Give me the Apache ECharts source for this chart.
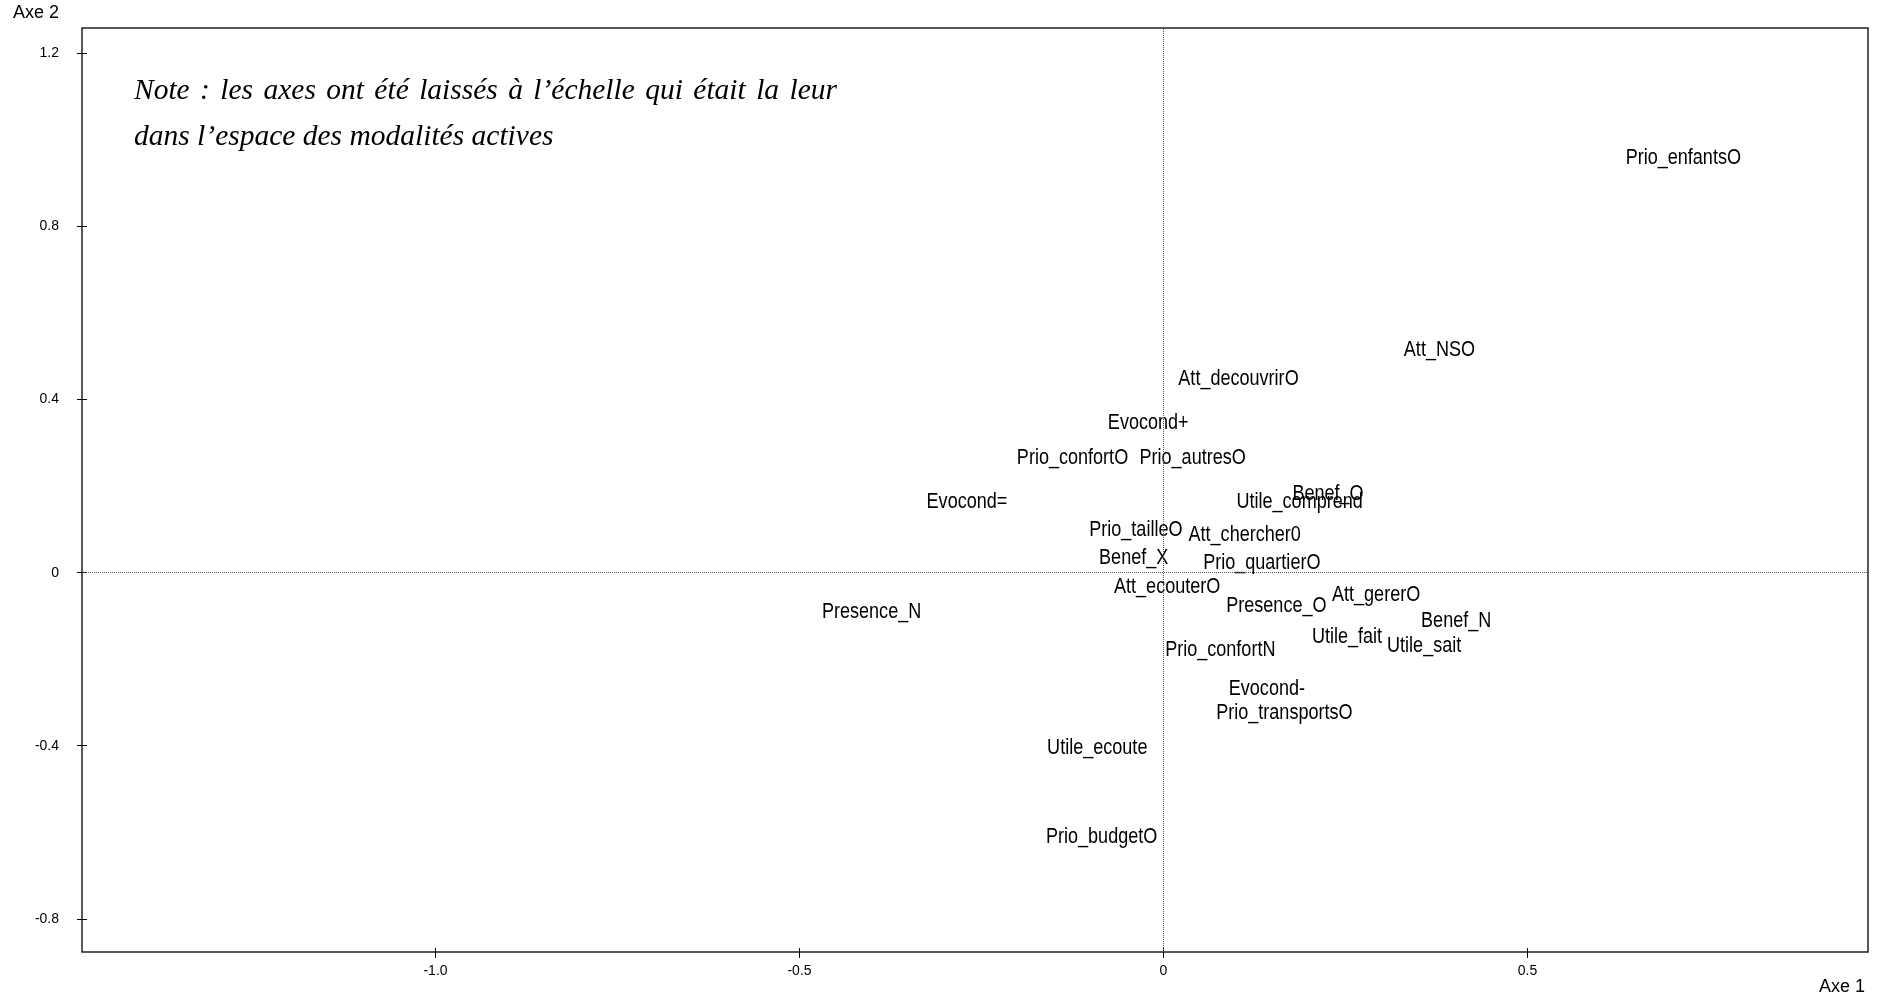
<!DOCTYPE html>
<html><head><meta charset="utf-8">
<script src="https://cdn.jsdelivr.net/npm/echarts@6/dist/echarts.min.js"></script>
<style>html,body{margin:0;padding:0;background:#fff}#c{width:1883px;height:1000px}</style>
</head><body><div id="c"></div>
<script>
// Modalités and their coordinates (Axe 1, Axe 2)
const modalites = ['Prio_enfantsO','Att_NSO','Att_decouvrirO','Evocond+','Prio_confortO','Prio_autresO','Evocond=','Benef_O','Utile_comprend','Prio_tailleO','Att_chercher0','Benef_X','Prio_quartierO','Att_ecouterO','Presence_O','Att_gererO','Presence_N','Benef_N','Utile_fait','Utile_sait','Prio_confortN','Evocond-','Prio_transportsO','Utile_ecoute','Prio_budgetO'];
const axe1 = [0.714,0.379,0.103,-0.021,-0.125,0.040,-0.270,0.226,0.187,-0.038,0.1115,-0.041,0.135,0.005,0.155,0.292,-0.401,0.402,0.252,0.358,0.078,0.142,0.166,-0.091,-0.085];
const axe2 = [0.964,0.519,0.453,0.350,0.269,0.269,0.169,0.186,0.169,0.103,0.092,0.039,0.028,-0.028,-0.072,-0.047,-0.086,-0.106,-0.144,-0.164,-0.175,-0.264,-0.319,-0.400,-0.606];
const xTicks = [-1.0,-0.5,0,0.5];
const xTickLabels = ['-1.0','-0.5','0','0.5'];
const yTicks = [-0.8,-0.4,0,0.4,0.8,1.2];
const yTickLabels = ['-0.8','-0.4','0','0.4','0.8','1.2'];
const noteLine1 = 'Note : les axes ont été laissés à l’échelle qui était la leur';
const noteLine2 = 'dans l’espace des modalités actives';

const X_MIN = -1.4856, X_MAX = 0.9677, Y_MIN = -0.8768, Y_MAX = 1.259;
const labFont = '22px "Liberation Sans", Arial, sans-serif';
const axFont = '"Liberation Sans", Arial, sans-serif';

function lab(ticks, names){ return v => { const i = ticks.findIndex(t => Math.abs(t - v) < 1e-9); return i >= 0 ? names[i] : ''; }; }

const data = modalites.map((m, i) => [axe1[i], axe2[i], i]);

// justified note, line 1
const noteFont = 'italic 29.5px "Liberation Serif", "Times New Roman", serif';
const ctx = document.createElement('canvas').getContext('2d');
ctx.font = noteFont;
const words = noteLine1.split(' ');
const nl = 134, nr = 837;
const widths = words.map(w => ctx.measureText(w).width);
const tot = widths.reduce((a, b) => a + b, 0);
const gap = (nr - nl - tot) / (words.length - 1);
const graphics = [];
let cx = nl;
words.forEach((w, i) => {
  graphics.push({ type: 'text', x: cx, y: 91, style: { text: w, font: noteFont, fill: '#000', textAlign: 'left', textVerticalAlign: 'middle' } });
  cx += widths[i] + gap;
});
graphics.push({ type: 'text', x: nl, y: 137, style: { text: noteLine2, font: noteFont, fill: '#000', textAlign: 'left', textVerticalAlign: 'middle' } });
graphics.push({ type: 'text', x: 13, y: 13, style: { text: 'Axe 2', font: '18px ' + axFont, fill: '#000', textAlign: 'left', textVerticalAlign: 'middle' } });
graphics.push({ type: 'text', x: 1865, y: 987, style: { text: 'Axe 1', font: '18px ' + axFont, fill: '#000', textAlign: 'right', textVerticalAlign: 'middle' } });

const chart = echarts.init(document.getElementById('c'), null, { renderer: 'canvas' });
const tickStyle = { color: '#000', width: 1 };
const noLine = { show: false, onZero: false };
chart.setOption({
  animation: false,
  backgroundColor: '#fff',
  grid: { left: 82, right: 15, top: 28, bottom: 48, show: true, borderColor: '#222', borderWidth: 1.5, backgroundColor: 'transparent' },
  xAxis: [
    { type: 'value', min: X_MIN, max: X_MAX, axisLine: noLine, splitLine: { show: false },
      axisTick: { show: true, customValues: xTicks, length: 6, lineStyle: tickStyle },
      axisLabel: { customValues: xTicks, formatter: lab(xTicks, xTickLabels), margin: 12, fontSize: 14, fontFamily: axFont, color: '#000' } },
    { type: 'value', min: X_MIN, max: X_MAX, position: 'bottom', axisLine: noLine, splitLine: { show: false },
      axisTick: { show: true, inside: true, customValues: xTicks, length: 4, lineStyle: tickStyle }, axisLabel: { show: false } }
  ],
  yAxis: [
    { type: 'value', min: Y_MIN, max: Y_MAX, axisLine: noLine, splitLine: { show: false },
      axisTick: { show: true, customValues: yTicks, length: 5, lineStyle: tickStyle },
      axisLabel: { customValues: yTicks, formatter: lab(yTicks, yTickLabels), margin: 23, fontSize: 14, fontFamily: axFont, color: '#000' } },
    { type: 'value', min: Y_MIN, max: Y_MAX, position: 'left', axisLine: noLine, splitLine: { show: false },
      axisTick: { show: true, inside: true, customValues: yTicks, length: 5, lineStyle: tickStyle }, axisLabel: { show: false } }
  ],
  graphic: graphics,
  series: [{
    type: 'custom', xAxisIndex: 0, yAxisIndex: 0, data: data, silent: true,
    renderItem: (params, api) => {
      const p = api.coord([api.value(0), api.value(1)]);
      return { type: 'text', x: p[0], y: p[1] + 2, scaleX: 0.82,
        style: { text: modalites[api.value(2)], font: labFont, fill: '#000', textAlign: 'center', textVerticalAlign: 'middle' } };
    },
    markLine: { silent: true, symbol: 'none', label: { show: false },
      lineStyle: { type: 'dotted', color: '#555', width: 1 },
      data: [{ xAxis: 0 }, { yAxis: 0 }] }
  }]
});
</script></body></html>
